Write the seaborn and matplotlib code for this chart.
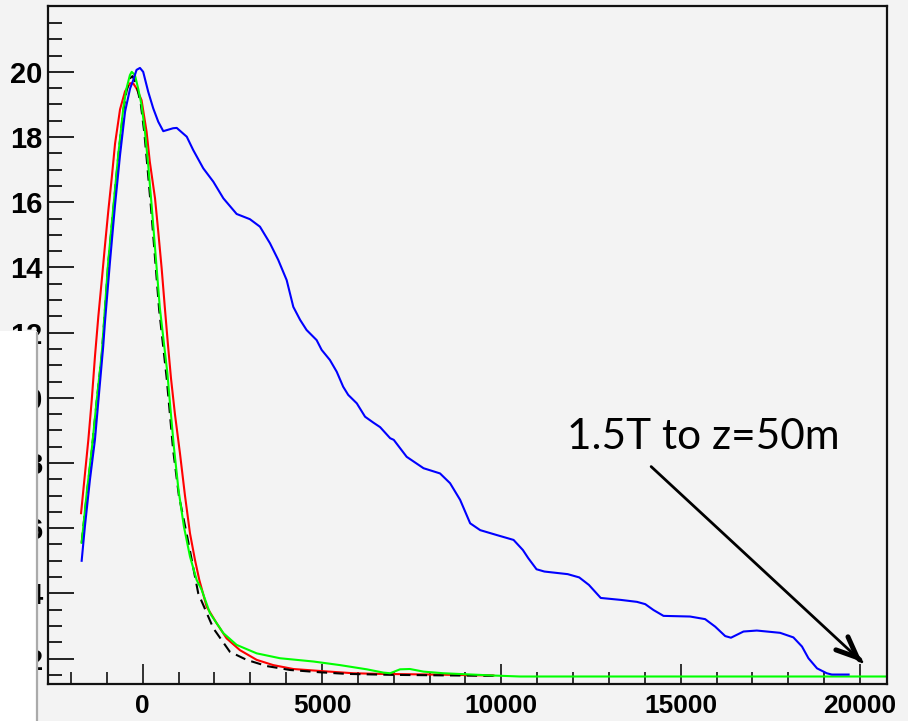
import numpy as np
import pandas as pd
import matplotlib
matplotlib.use("Agg")
import matplotlib.pyplot as plt
import seaborn as sns
from matplotlib.patches import Rectangle
from matplotlib.lines import Line2D

# ---------------- data ----------------
blue_x = [-1700, -1610, -1470, -1330, -1240, -1100, -1050, -910, -770, -630, -490, -350,
          -260, -170, -75, 15, 155, 295, 435, 575, 850, 950, 1230, 1410, 1690, 1970, 2250,
          2620, 2990, 3270, 3550, 3780, 4015, 4200, 4390, 4570, 4850, 4990, 5220, 5410,
          5590, 5730, 5970, 6200, 6430, 6620, 6900, 7000, 7360, 7830, 8290, 8570, 8850,
          9130, 9410, 9870, 10340, 10600, 10750, 10980, 11200, 11850, 12170, 12440, 12770,
          13330, 13780, 14010, 14240, 14520, 15260, 15680, 15960, 16240, 16400, 16750,
          17120, 17770, 18140, 18380, 18560, 18800, 19070, 19210, 19680]
blue_y = [5.0, 6.05, 7.48, 8.71, 9.83, 11.57, 12.33, 14.18, 15.91, 17.45, 18.78, 19.49,
          19.75, 20.06, 20.12, 20.0, 19.39, 18.88, 18.47, 18.18, 18.27, 18.28, 18.01, 17.6,
          17.04, 16.63, 16.12, 15.64, 15.48, 15.25, 14.74, 14.23, 13.61, 12.79, 12.39, 12.08,
          11.77, 11.47, 11.16, 10.80, 10.34, 10.09, 9.83, 9.42, 9.24, 9.10, 8.76, 8.71, 8.19,
          7.84, 7.68, 7.38, 6.87, 6.15, 5.94, 5.79, 5.64, 5.33, 5.08, 4.74, 4.67, 4.59, 4.49,
          4.26, 3.86, 3.80, 3.74, 3.67, 3.49, 3.31, 3.29, 3.21, 2.98, 2.69, 2.64, 2.83, 2.86,
          2.79, 2.65, 2.37, 2.01, 1.70, 1.55, 1.51, 1.51]

red_x = [-1717, -1607, -1514, -1419, -1327, -1235, -1140, -1048, -956, -861, -769, -630,
         -491, -351, -260, -170, -30, 110, 200, 345, 435, 530, 620, 700, 790, 900, 1040,
         1180, 1320, 1460, 1580, 1785, 2065, 2340, 2710, 3180, 3640, 4200, 4940, 5870,
         6620, 8100, 9780]
red_y = [6.46, 7.68, 8.71, 9.93, 11.3, 12.5, 13.6, 14.7, 15.75, 16.75, 17.8, 18.85,
         19.4, 19.65, 19.64, 19.49, 19.13, 18.16, 17.24, 16.12, 15.1, 13.97, 12.75, 11.7,
         10.6, 9.5, 8.3, 7.0, 5.84, 5.02, 4.41, 3.59, 3.08, 2.62, 2.26, 1.96, 1.80, 1.68,
         1.62, 1.55, 1.53, 1.51, 1.48]

green_x = [-1700, -1560, -1420, -1280, -1140, -960, -820, -680, -540, -450, -355,
           -305, -215, -125, -30, 65, 155, 250, 345, 480, 580, 690, 770, 870, 1000, 1150,
           1320, 1506, 1645, 1877, 2250, 2620, 3180, 3830, 4760, 5500, 6250, 6710, 6900,
           7175, 7450, 7830, 8380, 9780, 10520, 20750]
green_y = [5.55, 7.07, 8.40, 9.93, 11.36, 14.18, 15.81, 17.45, 18.88, 19.49, 19.90,
           20.0, 19.9, 19.49, 18.98, 18.16, 17.14, 15.91, 14.6, 12.75, 11.8, 10.75, 9.73,
           8.5, 7.17, 6.05, 5.13, 4.41, 4.11, 3.39, 2.78, 2.42, 2.16, 2.01, 1.91, 1.80, 1.67,
           1.57, 1.55, 1.67, 1.68, 1.60, 1.55, 1.48, 1.45, 1.45]

black_x = [-1700, -1560, -1420, -1280, -1140, -960, -820, -680, -540, -450, -355, -280,
           -170, -50, 50, 140, 235, 330, 460, 560, 670, 850, 1010, 1250, 1550, 1970, 2430,
           2900, 3460, 4110, 4940, 5690, 6990, 9780]
black_y = [5.55, 7.0, 8.35, 9.9, 11.3, 14.1, 15.75, 17.4, 18.8, 19.4, 19.8, 19.87,
           19.6, 19.0, 18.1, 17.0, 15.8, 14.5, 12.7, 11.7, 10.6, 8.4, 7.0, 5.7, 4.0, 2.93,
           2.21, 1.96, 1.77, 1.65, 1.58, 1.53, 1.50, 1.47]

x_major = [0, 5000, 10000, 15000, 20000]
x_minor = list(range(-2000, 21000, 1000))
y_major = [2, 4, 6, 8, 10, 12, 14, 16, 18, 20]
y_minor = [v / 2 for v in range(3, 44)]

annotation_text = "1.5T to z=50m"

# ---------------- figure ----------------
BG = "#f3f3f3"
fig = plt.figure(figsize=(9.08, 7.21), dpi=100, facecolor=BG)
ax = fig.add_axes([48.3 / 908, 37 / 721, (887 - 48.3) / 908, (684 - 6) / 721])
ax.set_facecolor(BG)

series = [
    ("red", red_x, red_y, "#ff0000", "-"),
    ("black", black_x, black_y, "#000000", (0, (5, 3))),
    ("green", green_x, green_y, "#00ff00", "-"),
    ("blue", blue_x, blue_y, "#0000ff", "-"),
]
for name, xs, ys, col, ls in series:
    df = pd.DataFrame({"x": xs, "y": ys})
    sns.lineplot(data=df, x="x", y="y", ax=ax, color=col, linewidth=1.5,
                 sort=False, estimator=None)
    ax.lines[-1].set_linestyle(ls)

ax.set_xlim(-2630, 20750)
ax.set_ylim(1.22, 22.02)
ax.set_xlabel("")
ax.set_ylabel("")

ax.set_xticks(x_major)
ax.set_xticks(x_minor, minor=True)
ax.set_yticks(y_major)
ax.set_yticks(y_minor, minor=True)
ax.set_xticklabels([str(v) for v in x_major])
ax.set_yticklabels([str(v) for v in y_major])

for lab in ax.get_xticklabels():
    lab.set_fontfamily("Liberation Sans")
    lab.set_fontweight("bold")
    lab.set_fontsize(19)
for lab in ax.get_yticklabels():
    lab.set_fontfamily("Liberation Sans")
    lab.set_fontweight("bold")
    lab.set_fontsize(21)

ax.tick_params(axis="y", which="major", direction="in", length=18.5, width=1.4,
               color="#222222", pad=4)
ax.tick_params(axis="y", which="minor", direction="in", length=10, width=1.4,
               color="#222222")
ax.tick_params(axis="x", which="major", direction="in", length=14.4, width=1.3,
               color="#222222", pad=7)
ax.tick_params(axis="x", which="minor", direction="in", length=8.3, width=1.3,
               color="#222222")
ax.tick_params(top=False, right=False)

for sp in ax.spines.values():
    sp.set_visible(True)
    sp.set_color("#111111")
    sp.set_linewidth(1.6)

# annotation
ax.text(11822, 8.42, annotation_text, ha="left", va="baseline",
        fontsize=30.5, family=["Lato", "DejaVu Sans"], color="black")
tip = (20050, 1.9)
tail = (14175, 7.89)
ax.annotate("", xy=tip, xytext=tail,
            arrowprops=dict(arrowstyle="-", color="black", lw=2.0,
                            shrinkA=0, shrinkB=0))
near = (tip[0] - (tip[0] - tail[0]) * 0.01, tip[1] - (tip[1] - tail[1]) * 0.01)
ax.annotate("", xy=tip, xytext=near,
            arrowprops=dict(arrowstyle="->, head_length=0.75, head_width=0.32",
                            color="black", lw=3.6, mutation_scale=20,
                            shrinkA=0, shrinkB=0, joinstyle="miter", capstyle="round"))

# white slide box covering left tick labels
fig.add_artist(Rectangle((0, 0), 37 / 908, (721 - 331) / 721, transform=fig.transFigure,
                         facecolor="white", edgecolor="none", zorder=10))
fig.add_artist(Line2D([37 / 908, 37 / 908], [0, (721 - 333) / 721], transform=fig.transFigure,
                      color="#aaaaaa", linewidth=1.6, zorder=11))

fig.savefig("out.png", dpi=100, facecolor=BG)
